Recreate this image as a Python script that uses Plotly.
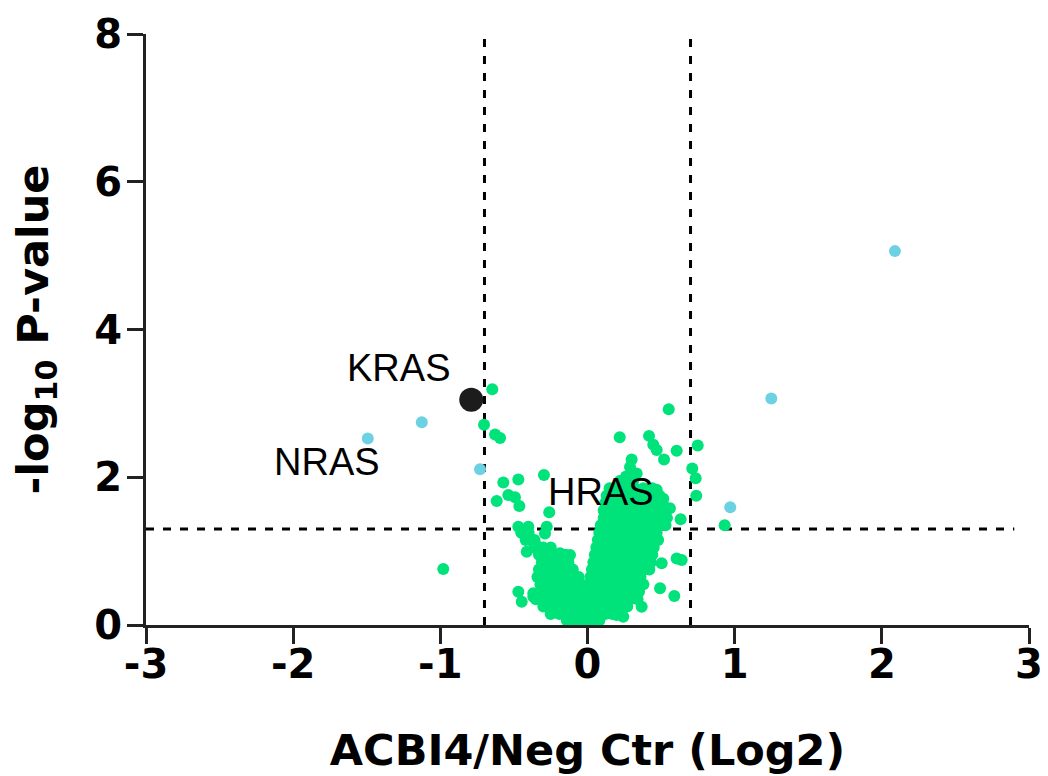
import plotly.graph_objects as go

# ---------------- data ----------------
# highlighted genes
kras_x = [-0.79]
kras_y = [3.05]

blue_x = [-1.126, -1.493, -0.730, 2.089, 1.249, 0.970]
blue_y = [2.743, 2.526, 2.107, 5.061, 3.067, 1.593]

# scattered green points
green_out_x = [-0.647, -0.703, -0.628, -0.594, -0.572, -0.47, -0.296, -0.617, -0.538, -0.493,
               -0.463, -0.26, -0.277, -0.289, -0.47, -0.402, -0.402, -0.39, -0.413, -0.334,
               -0.266, -0.187, -0.119, -0.98, -0.47, -0.447, -0.368, -0.368, -0.311,
               0.552, 0.219, 0.418, 0.447, 0.47, 0.606, 0.749, 0.52, 0.30, 0.289,
               0.712, 0.735, 0.739, 0.334, 0.262, 0.47, 0.515, 0.56, 0.633, 0.932,
               0.606, 0.64, 0.504, 0.493, 0.59, 0.368, 0.243, 0.198]
green_out_y = [3.19, 2.71, 2.58, 2.53, 1.93, 1.97, 2.03, 1.68, 1.76, 1.73,
               1.61, 1.525, 1.33, 1.24, 1.33, 1.33, 1.195, 1.15, 0.99, 1.06,
               1.015, 0.97, 0.947, 0.758, 0.45, 0.315, 0.383, 0.43, 0.654,
               2.92, 2.54, 2.56, 2.44, 2.37, 2.36, 2.43, 2.24, 2.24, 2.14,
               2.12, 1.985, 1.75, 2.05, 2.01, 1.83, 1.71, 1.58, 1.43, 1.35,
               0.90, 0.88, 0.835, 0.496, 0.392, 0.248, 0.112, 0.135]

# dense core, read row by row (y level, x positions)
core_row_y = [1.95, 1.85, 1.75, 1.65, 1.55, 1.45, 1.35, 1.25, 1.15, 1.05,
              0.95, 0.85, 0.75, 0.65, 0.55, 0.45, 0.35, 0.25, 0.15, 0.06,
              1.25, 1.15, 1.05, 0.95, 0.85, 0.75, 0.65, 0.55, 0.45, 0.35,
              0.25, 0.15, 0.06, -0.01]
core_row_x = [
    # right arm
    [0.22, 0.27, 0.31],
    [0.15, 0.20, 0.26, 0.32, 0.38, 0.44],
    [0.13, 0.18, 0.23, 0.28, 0.33, 0.38, 0.43, 0.49],
    [0.12, 0.17, 0.22, 0.27, 0.32, 0.37, 0.42, 0.47, 0.51],
    [0.11, 0.16, 0.21, 0.26, 0.31, 0.36, 0.41, 0.46, 0.52],
    [0.11, 0.16, 0.21, 0.26, 0.31, 0.36, 0.41, 0.46, 0.50, 0.54],
    [0.09, 0.14, 0.19, 0.24, 0.29, 0.34, 0.39, 0.44, 0.49, 0.53],
    [0.08, 0.13, 0.18, 0.23, 0.28, 0.33, 0.38, 0.43, 0.47],
    [0.07, 0.12, 0.17, 0.22, 0.27, 0.32, 0.37, 0.42, 0.48],
    [0.06, 0.11, 0.16, 0.21, 0.26, 0.31, 0.36, 0.41, 0.45],
    [0.05, 0.10, 0.15, 0.20, 0.25, 0.30, 0.35, 0.40, 0.44],
    [0.04, 0.09, 0.14, 0.19, 0.24, 0.29, 0.34, 0.39, 0.43],
    [0.03, 0.08, 0.13, 0.18, 0.23, 0.28, 0.33, 0.38, 0.42],
    [0.02, 0.07, 0.12, 0.17, 0.22, 0.27, 0.32, 0.36],
    [0.02, 0.07, 0.12, 0.17, 0.22, 0.27, 0.32, 0.38],
    [0.01, 0.06, 0.11, 0.16, 0.21, 0.26, 0.31, 0.35],
    [-0.01, 0.04, 0.09, 0.14, 0.19, 0.24, 0.29, 0.34],
    [-0.02, 0.03, 0.08, 0.13, 0.18, 0.23, 0.27],
    [-0.03, 0.02, 0.07, 0.12, 0.17],
    [-0.04, 0.0, 0.04, 0.08],
    # left arm
    [-0.45, -0.40],
    [-0.42, -0.36],
    [-0.36, -0.30, -0.25],
    [-0.33, -0.27, -0.21, -0.15],
    [-0.31, -0.25, -0.19, -0.13],
    [-0.33, -0.27, -0.21, -0.15, -0.10],
    [-0.34, -0.28, -0.22, -0.16, -0.10, -0.06],
    [-0.32, -0.26, -0.20, -0.14, -0.08, -0.04],
    [-0.30, -0.24, -0.18, -0.12, -0.07, -0.03],
    [-0.35, -0.29, -0.23, -0.17, -0.11, -0.06],
    [-0.30, -0.24, -0.18, -0.12, -0.07],
    [-0.25, -0.19, -0.13, -0.08],
    [-0.14, -0.09],
    [-0.03, 0.02],
]

fc_cut = 0.7
p_cut = 1.3

labels = ["KRAS", "NRAS", "HRAS"]
label_x = [-1.287, -1.77, 0.095]
label_y = [3.478, 2.206, 1.80]

x_ticks = [-3, -2, -1, 0, 1, 2, 3]
y_ticks = [0, 2, 4, 6, 8]

# ---------------- build ----------------
green_x = list(green_out_x)
green_y = list(green_out_y)
for yv, xs in zip(core_row_y, core_row_x):
    for xv in xs:
        green_x.append(xv)
        green_y.append(yv)

GREEN = "#00E27A"
BLUE = "#6CD2E3"
BLACK = "#1C1C1C"

fig = go.Figure()
fig.add_trace(go.Scatter(x=green_x, y=green_y, mode="markers",
                         marker=dict(color=GREEN, size=12, line=dict(width=0)),
                         cliponaxis=False, showlegend=False, hoverinfo="x+y"))
fig.add_trace(go.Scatter(x=blue_x, y=blue_y, mode="markers",
                         marker=dict(color=BLUE, size=12, line=dict(width=0)),
                         cliponaxis=False, showlegend=False))
fig.add_trace(go.Scatter(x=kras_x, y=kras_y, mode="markers",
                         marker=dict(color=BLACK, size=24, line=dict(width=0)),
                         cliponaxis=False, showlegend=False))

dash_style = dict(color="black", width=3, dash="8px,9px")
fig.add_shape(type="line", x0=-fc_cut, x1=-fc_cut, y0=0, y1=8, xref="x", yref="y",
              line=dash_style, layer="below")
fig.add_shape(type="line", x0=fc_cut, x1=fc_cut, y0=0, y1=8, xref="x", yref="y",
              line=dash_style, layer="below")
fig.add_shape(type="line", x0=-3, x1=2.9, y0=p_cut, y1=p_cut, xref="x", yref="y",
              line=dash_style, layer="below")

for t, lx, ly in zip(labels, label_x, label_y):
    fig.add_annotation(x=lx, y=ly, text=t, showarrow=False, xref="x", yref="y",
                       font=dict(family="Liberation Sans, Arial, sans-serif", size=38, color="black"),
                       xanchor="center", yanchor="middle")

axis_font = dict(family="DejaVu Sans, sans-serif", size=40, color="black")
title_font = dict(family="DejaVu Sans, sans-serif", size=43, color="black")

# the page body adds an 8px offset, so margins are set to land the axes where the reference has them
fig.update_layout(
    width=1048, height=776,
    margin=dict(l=138, r=27, t=26, b=159),
    paper_bgcolor="white", plot_bgcolor="white",
    showlegend=False,
    xaxis=dict(range=[-3, 3], tickvals=x_ticks, ticktext=[f"<b>{v}</b>" for v in x_ticks],
               showgrid=False, zeroline=False, showline=True, linecolor="#222", linewidth=3,
               ticks="outside", ticklen=16, tickwidth=3, tickcolor="#222",
               tickfont=axis_font, fixedrange=True, automargin=False,
               ticklabelstandoff=-14,
               title=dict(text="<b>ACBI4/Neg Ctr (Log2)</b>", font=title_font, standoff=49)),
    yaxis=dict(range=[0, 8], tickvals=y_ticks, ticktext=[f"<b>{v}</b>" for v in y_ticks],
               showgrid=False, zeroline=False, showline=True, linecolor="#222", linewidth=3,
               ticks="outside", ticklen=16, tickwidth=3, tickcolor="#222",
               tickfont=axis_font, fixedrange=True, automargin=False,
               ticklabelstandoff=-3,
               title=dict(text="<b>-log<sub>10</sub> P-value</b>", font=title_font, standoff=40)),
)

fig.write_html("out.html")
